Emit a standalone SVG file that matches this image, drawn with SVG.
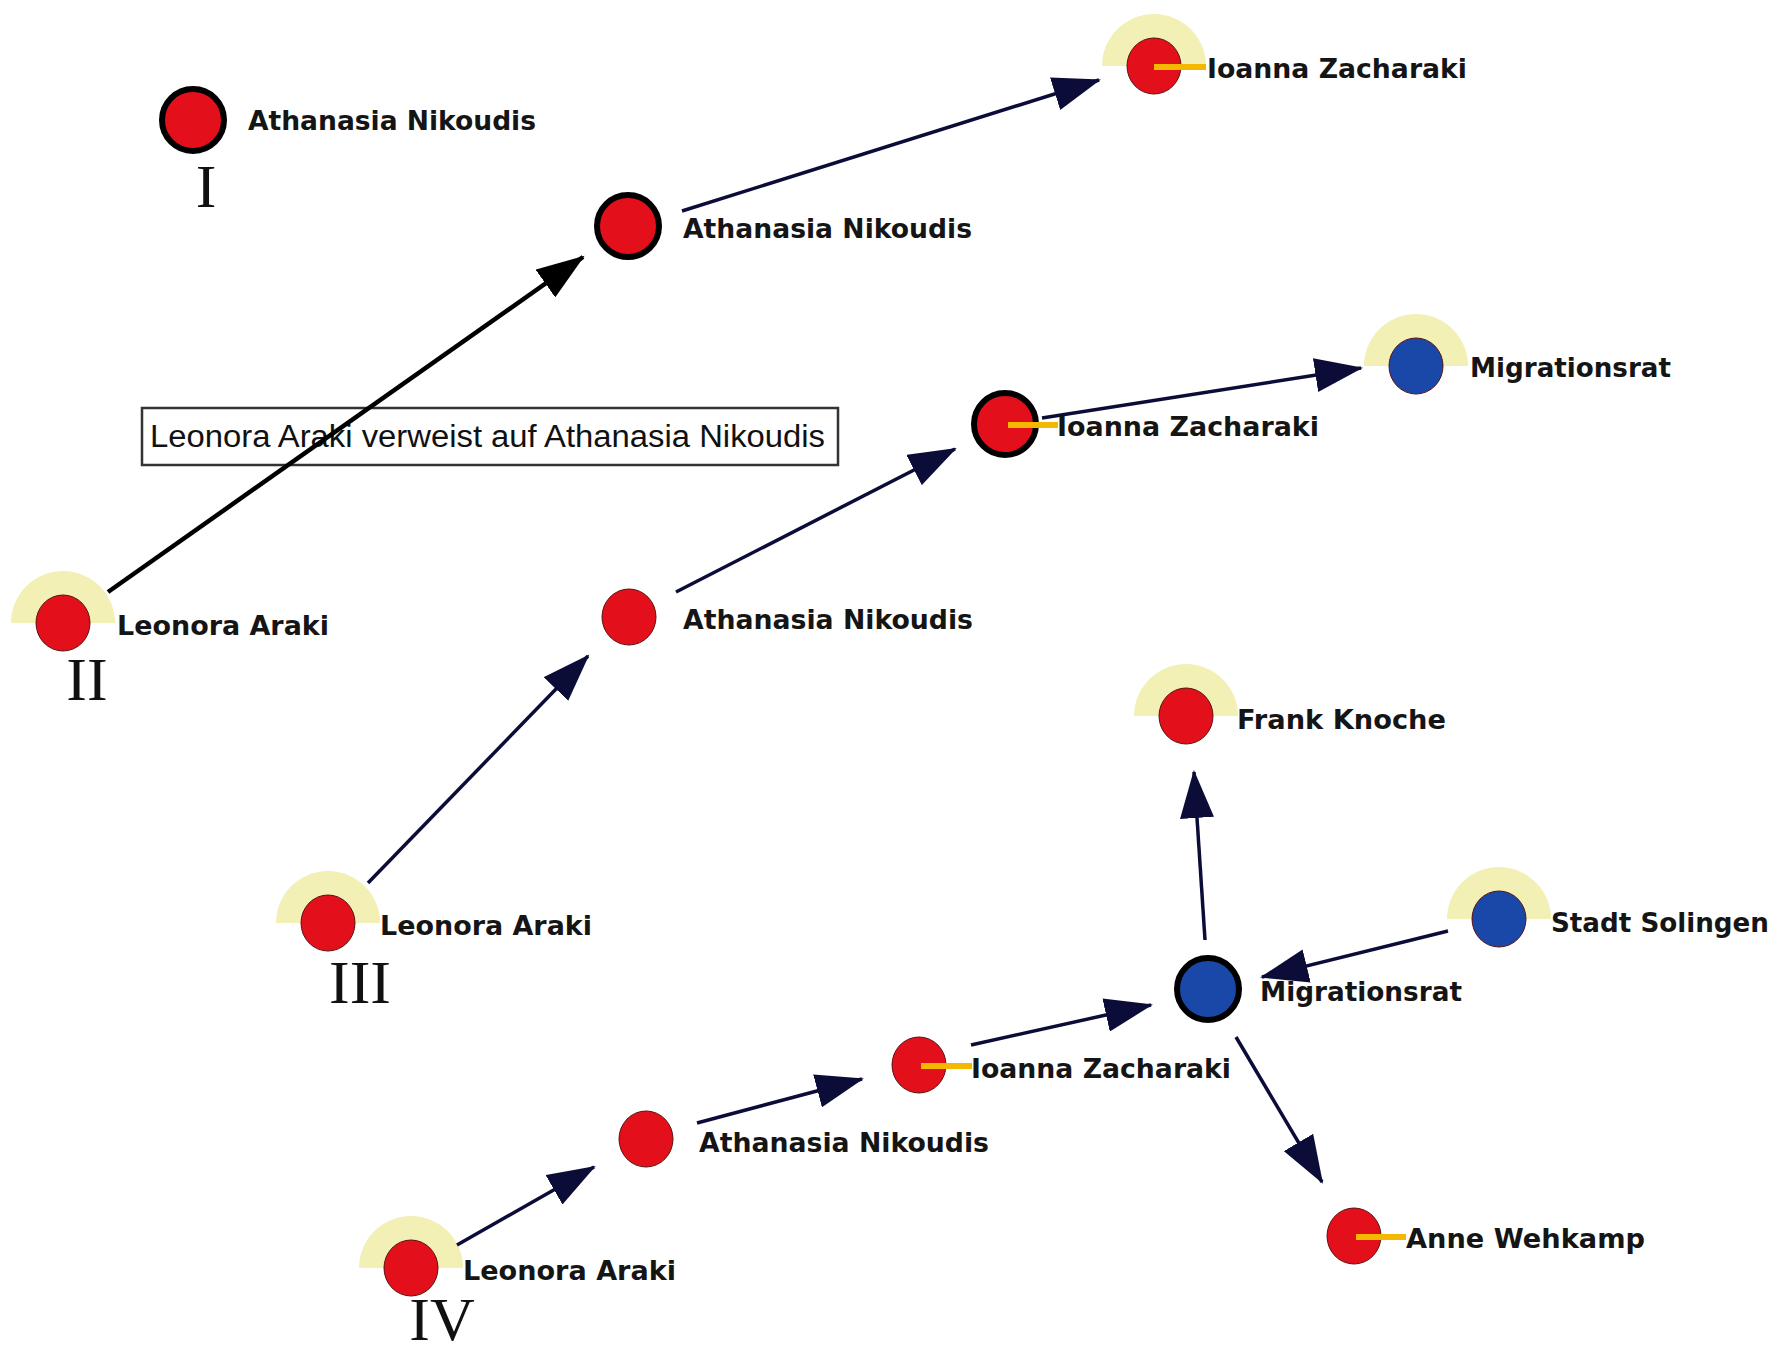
<svg xmlns="http://www.w3.org/2000/svg" width="1791" height="1350" viewBox="0 0 1791 1350">
<style>
.halo{fill:#f3f0b6}
.red{fill:#e3101c}
.blue{fill:#1a48a8}
.ring{stroke:#000;stroke-width:6}
.thin{stroke:#5a1010;stroke-width:1}
.lbl{font-family:"DejaVu Sans",sans-serif;font-weight:bold;font-size:26px;fill:#151515}
.rom{font-family:"Liberation Serif",serif;font-size:62px;fill:#111;text-anchor:middle}
.tie{stroke:#f5b800;stroke-width:6}
.edge{stroke:#0c0c38;stroke-width:3.5;fill:none}
.edgeb{stroke:#000;stroke-width:4.5;fill:none}
</style>
<defs>
<marker id="ah" markerUnits="userSpaceOnUse" markerWidth="50" markerHeight="34" refX="46" refY="17" orient="auto">
<path d="M0,0 L48,17 L0,34 z" fill="#0c0c38"/>
</marker>
<marker id="ahb" markerUnits="userSpaceOnUse" markerWidth="50" markerHeight="34" refX="46" refY="17" orient="auto">
<path d="M0,0 L48,17 L0,34 z" fill="#000"/>
</marker>
</defs>
<rect width="1791" height="1350" fill="#fff"/>

<g id="note">
<rect x="142" y="408" width="696" height="57" fill="#fff" stroke="#333" stroke-width="2.5"/>
<text x="150" y="447" font-family="Liberation Sans, sans-serif" font-size="31" fill="#111" textLength="675" lengthAdjust="spacingAndGlyphs">Leonora Araki verweist auf Athanasia Nikoudis</text>
</g>

<g id="halos">
<path class="halo" d="M11,623 A52,52 0 0 1 115,623 z"/>
<path class="halo" d="M1102,66 A52,52 0 0 1 1206,66 z"/>
<path class="halo" d="M276,923 A52,52 0 0 1 380,923 z"/>
<path class="halo" d="M1364,366 A52,52 0 0 1 1468,366 z"/>
<path class="halo" d="M359,1268 A52,52 0 0 1 463,1268 z"/>
<path class="halo" d="M1134,716 A52,52 0 0 1 1238,716 z"/>
<path class="halo" d="M1447,919 A52,52 0 0 1 1551,919 z"/>
</g>

<g id="connectors">
<line class="edgeb" x1="108" y1="592" x2="583" y2="257" marker-end="url(#ahb)"/>
<line class="edge" x1="682" y1="211" x2="1099" y2="80" marker-end="url(#ah)"/>
<line class="edge" x1="368" y1="883" x2="588" y2="656" marker-end="url(#ah)"/>
<line class="edge" x1="676" y1="592" x2="955" y2="449" marker-end="url(#ah)"/>
<line class="edge" x1="1042" y1="418" x2="1361" y2="368" marker-end="url(#ah)"/>
<line class="edge" x1="457" y1="1245" x2="594" y2="1167" marker-end="url(#ah)"/>
<line class="edge" x1="697" y1="1123" x2="862" y2="1079" marker-end="url(#ah)"/>
<line class="edge" x1="971" y1="1045" x2="1151" y2="1005" marker-end="url(#ah)"/>
<line class="edge" x1="1205" y1="940" x2="1194" y2="772" marker-end="url(#ah)"/>
<line class="edge" x1="1448" y1="931" x2="1262" y2="977" marker-end="url(#ah)"/>
<line class="edge" x1="1236" y1="1037" x2="1322" y2="1182" marker-end="url(#ah)"/>
</g>

<g id="n1-athanasia">
<circle class="red ring" cx="193" cy="120" r="31"/>
<text class="lbl" x="248" y="130" textLength="288" lengthAdjust="spacingAndGlyphs">Athanasia Nikoudis</text>
</g>
<text class="rom" x="206" y="207">I</text>

<g id="n2-leonora">
<ellipse class="red thin" cx="63" cy="623" rx="27" ry="28"/>
<text class="lbl" x="117" y="635" textLength="212" lengthAdjust="spacingAndGlyphs">Leonora Araki</text>
</g>
<text class="rom" x="87" y="700">II</text>
<g id="n2-athanasia">
<circle class="red ring" cx="628" cy="226" r="31"/>
<text class="lbl" x="683" y="238" textLength="289" lengthAdjust="spacingAndGlyphs">Athanasia Nikoudis</text>
</g>
<g id="n2-ioanna">
<ellipse class="red thin" cx="1154" cy="66" rx="27" ry="28"/>
<line class="tie" x1="1154" y1="67" x2="1206" y2="67"/>
<text class="lbl" x="1207" y="78" textLength="260" lengthAdjust="spacingAndGlyphs">Ioanna Zacharaki</text>
</g>

<g id="n3-leonora">
<ellipse class="red thin" cx="328" cy="923" rx="27" ry="28"/>
<text class="lbl" x="380" y="935" textLength="212" lengthAdjust="spacingAndGlyphs">Leonora Araki</text>
</g>
<text class="rom" x="360" y="1003">III</text>
<g id="n3-athanasia">
<ellipse class="red thin" cx="629" cy="617" rx="27" ry="28"/>
<text class="lbl" x="683" y="629" textLength="290" lengthAdjust="spacingAndGlyphs">Athanasia Nikoudis</text>
</g>
<g id="n3-ioanna">
<circle class="red ring" cx="1005" cy="424" r="31"/>
<line class="tie" x1="1008" y1="425" x2="1058" y2="425"/>
<text class="lbl" x="1057" y="436" textLength="262" lengthAdjust="spacingAndGlyphs">Ioanna Zacharaki</text>
</g>
<g id="n3-migrationsrat">
<ellipse class="blue thin" cx="1416" cy="366" rx="27" ry="28"/>
<text class="lbl" x="1470" y="377" textLength="201" lengthAdjust="spacingAndGlyphs">Migrationsrat</text>
</g>

<g id="n4-leonora">
<ellipse class="red thin" cx="411" cy="1268" rx="27" ry="28"/>
<text class="lbl" x="463" y="1280" textLength="213" lengthAdjust="spacingAndGlyphs">Leonora Araki</text>
</g>
<text class="rom" x="442" y="1340">IV</text>
<g id="n4-athanasia">
<ellipse class="red thin" cx="646" cy="1139" rx="27" ry="28"/>
<text class="lbl" x="699" y="1152" textLength="290" lengthAdjust="spacingAndGlyphs">Athanasia Nikoudis</text>
</g>
<g id="n4-ioanna">
<ellipse class="red thin" cx="919" cy="1065" rx="27" ry="28"/>
<line class="tie" x1="921" y1="1066" x2="972" y2="1066"/>
<text class="lbl" x="971" y="1078" textLength="260" lengthAdjust="spacingAndGlyphs">Ioanna Zacharaki</text>
</g>
<g id="n4-migrationsrat">
<circle class="blue ring" cx="1208" cy="989" r="31"/>
<text class="lbl" x="1260" y="1001" textLength="202" lengthAdjust="spacingAndGlyphs">Migrationsrat</text>
</g>
<g id="n4-frank">
<ellipse class="red thin" cx="1186" cy="716" rx="27" ry="28"/>
<text class="lbl" x="1237" y="729" textLength="209" lengthAdjust="spacingAndGlyphs">Frank Knoche</text>
</g>
<g id="n4-stadt">
<ellipse class="blue thin" cx="1499" cy="919" rx="27" ry="28"/>
<text class="lbl" x="1551" y="932" textLength="218" lengthAdjust="spacingAndGlyphs">Stadt Solingen</text>
</g>
<g id="n4-anne">
<ellipse class="red thin" cx="1354" cy="1236" rx="27" ry="28"/>
<line class="tie" x1="1356" y1="1237" x2="1406" y2="1237"/>
<text class="lbl" x="1406" y="1248" textLength="239" lengthAdjust="spacingAndGlyphs">Anne Wehkamp</text>
</g>
</svg>
